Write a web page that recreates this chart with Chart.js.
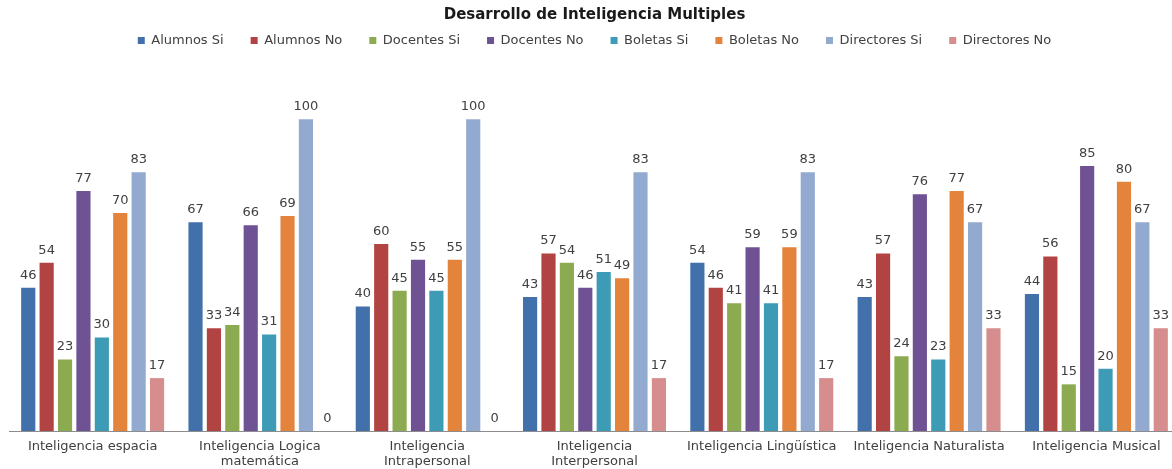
<!DOCTYPE html>
<html>
<head>
<meta charset="utf-8">
<script src="https://cdn.jsdelivr.net/npm/chart.js@4.4.0/dist/chart.umd.min.js"></script>
<style>
  html, body { margin: 0; padding: 0; background: #ffffff; overflow: hidden; }
  #wrap { position: relative; width: 1185px; height: 471px; }
</style>
</head>
<body>
<div id="wrap"><canvas id="c"></canvas></div>
<script>
const categories = [
  ["Inteligencia espacia"],
  ["Inteligencia Logica", "matemática"],
  ["Inteligencia", "Intrapersonal"],
  ["Inteligencia", "Interpersonal"],
  ["Inteligencia Lingüística"],
  ["Inteligencia Naturalista"],
  ["Inteligencia Musical"]
];
const alumnosSi     = [46, 67, 40, 43, 54, 43, 44];
const alumnosNo     = [54, 33, 60, 57, 46, 57, 56];
const docentesSi    = [23, 34, 45, 54, 41, 24, 15];
const docentesNo    = [77, 66, 55, 46, 59, 76, 85];
const boletasSi     = [30, 31, 45, 51, 41, 23, 20];
const boletasNo     = [70, 69, 55, 49, 59, 77, 80];
const directoresSi  = [83, 100, 100, 83, 83, 67, 67];
const directoresNo  = [17, 0, 0, 17, 17, 33, 33];

const seriesNames = ["Alumnos Si", "Alumnos No", "Docentes Si", "Docentes No", "Boletas Si", "Boletas No", "Directores Si", "Directores No"];
const seriesData = [alumnosSi, alumnosNo, docentesSi, docentesNo, boletasSi, boletasNo, directoresSi, directoresNo];
const seriesColors = ["#4170AA", "#B14442", "#8CAB50", "#6F5294", "#3D9BB6", "#E3833C", "#93AAD0", "#D58D8D"];

const valueLabels = {
  id: 'valueLabels',
  afterDatasetsDraw(chart) {
    const ctx = chart.ctx;
    ctx.save();
    ctx.font = '13px "DejaVu Sans"';
    ctx.fillStyle = '#404040';
    ctx.textAlign = 'center';
    ctx.textBaseline = 'bottom';
    chart.data.datasets.forEach((ds, i) => {
      const meta = chart.getDatasetMeta(i);
      meta.data.forEach((bar, j) => {
        const v = ds.data[j];
        const x = bar.x + (v === 0 ? 3 : 0);
        ctx.fillText(String(v), x, bar.y - 6);
      });
    });
    ctx.restore();
  }
};

new Chart(document.getElementById('c'), {
  type: 'bar',
  data: {
    labels: categories,
    datasets: seriesNames.map((n, i) => ({
      label: n,
      data: seriesData[i],
      backgroundColor: seriesColors[i],
      borderWidth: 0,
      barPercentage: 0.77,
      categoryPercentage: 0.88
    }))
  },
  options: {
    responsive: true,
    maintainAspectRatio: false,
    animation: false,
    layout: { padding: { left: 9, right: 5, top: 0, bottom: 2 } },
    plugins: {
      title: {
        display: true,
        text: 'Desarrollo de Inteligencia Multiples',
        color: '#1a1a1a',
        font: { family: '"DejaVu Sans"', size: 15, weight: 'bold' },
        padding: { top: 6, bottom: -17 }
      },
      legend: {
        display: true,
        position: 'top',
        labels: {
          color: '#404040',
          font: { family: '"DejaVu Sans"', size: 13 },
          boxWidth: 7,
          boxHeight: 7,
          padding: 27
        }
      },
      tooltip: { enabled: false }
    },
    scales: {
      x: {
        grid: { display: false },
        border: { display: true, color: '#8c8c8c', width: 1 },
        ticks: {
          color: '#404040',
          font: { family: '"DejaVu Sans"', size: 13, lineHeight: 1.15 },
          maxRotation: 0,
          autoSkip: false,
          padding: 0
        }
      },
      y: {
        display: false,
        min: 0,
        max: 120
      }
    }
  },
  plugins: [valueLabels]
});
</script>
</body>
</html>
